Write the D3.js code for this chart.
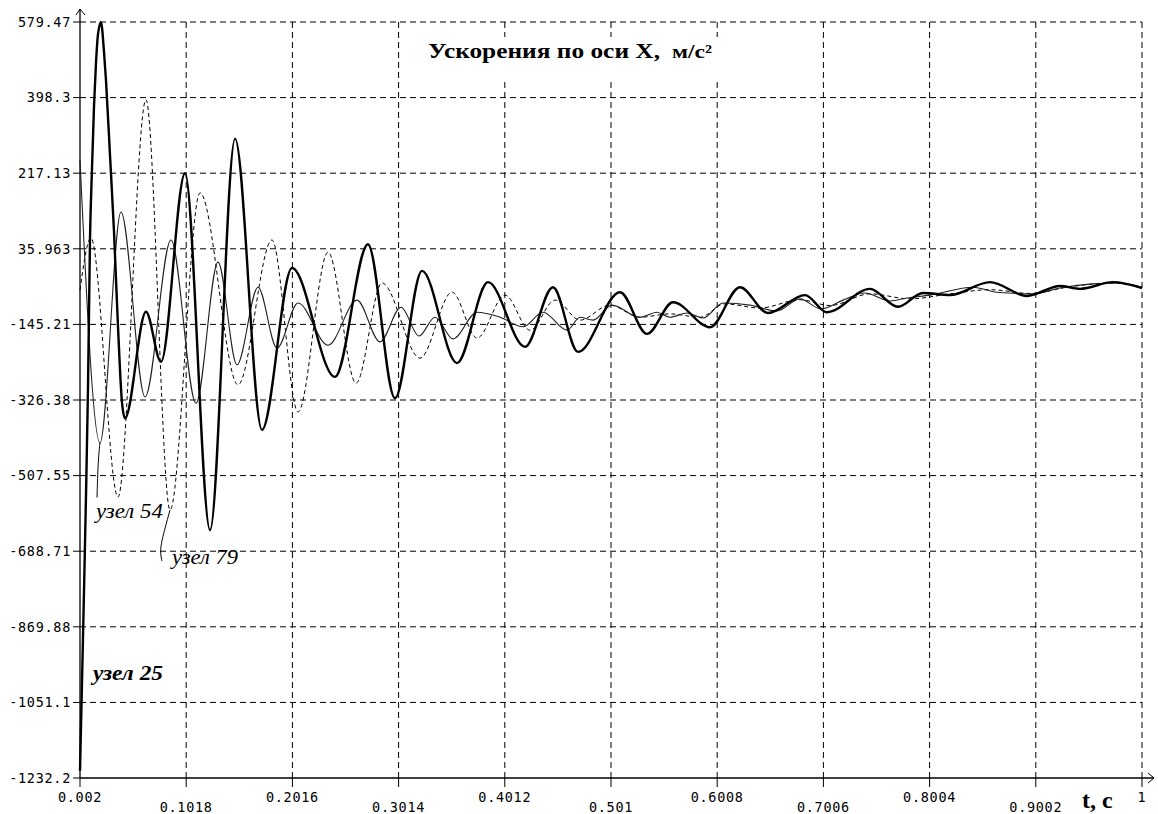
<!DOCTYPE html>
<html lang="ru">
<head>
    <meta charset="UTF-8">
    <title>Ускорения по оси X</title>
    <script src="https://d3js.org/d3.v7.min.js"></script>
    <style>
        body { margin: 0; background: #fff; }
        svg { display: block; }
        .tick-label {
            font-family: "DejaVu Sans Mono", monospace;
            font-size: 13.5px;
            letter-spacing: 0.7px;
            fill: #000;
        }
        .grid { stroke: #000; stroke-width: 1; stroke-dasharray: 6,4; fill: none; }
        .node-label { font-family: "Liberation Serif", "DejaVu Serif", serif; font-style: italic; font-size: 20px; fill: #000; }
    </style>
</head>
<body>
<svg id="chart" width="1158" height="814"></svg>
<script>
    // tick values and their printed labels
    const xTicks = [0.002, 0.1018, 0.2016, 0.3014, 0.4012, 0.501, 0.6008, 0.7006, 0.8004, 0.9002, 1];
    const xLabels = ["0.002", "0.1018", "0.2016", "0.3014", "0.4012", "0.501", "0.6008", "0.7006", "0.8004", "0.9002", "1"];
    const yTicks = [579.47, 398.3, 217.13, 35.963, -145.21, -326.38, -507.55, -688.71, -869.88, -1051.1, -1232.2];
    const yLabels = ["579.47", "398.3", "217.13", "35.963", "-145.21", "-326.38", "-507.55", "-688.71", "-869.88", "-1051.1", "-1232.2"];

    // узел 25 (thick line): [t, a]
    const node25 = [
        [0.002, -1215], [0.0039, -1000], [0.0058, -780], [0.0076, -560], [0.0095, -300],
        [0.0114, 60], [0.0133, 230], [0.0152, 380], [0.017, 480], [0.0189, 550],
        [0.0217, 579], [0.0245, 510], [0.0264, 440], [0.0302, 260], [0.0339, 80],
        [0.0377, -150], [0.0414, -330], [0.0443, -370], [0.064, -115], [0.0781, -235],
        [0.1007, 217], [0.1242, -638], [0.1477, 300], [0.173, -398], [0.2012, -10],
        [0.2416, -271], [0.2726, 47], [0.298, -322], [0.3234, -17], [0.3563, -238],
        [0.3854, -44], [0.4202, -199], [0.4465, -56], [0.47, -211], [0.5095, -68],
        [0.5348, -168], [0.5593, -92], [0.594, -152], [0.6222, -56], [0.6485, -118],
        [0.6833, -75], [0.704, -116], [0.7444, -60], [0.7707, -103], [0.7942, -70],
        [0.8196, -75], [0.8572, -44], [0.8919, -77], [0.9229, -53], [0.9417, -60],
        [0.9727, -44], [1.0, -58]
    ];

    // узел 54 (thin line)
    const node54 = [
        [0.002, 249], [0.0208, -429], [0.0405, 124], [0.0631, -319], [0.0875, 57],
        [0.111, -334], [0.1317, 4], [0.1495, -242], [0.1693, -56], [0.1871, -202],
        [0.2069, -94], [0.2351, -195], [0.2623, -87], [0.2839, -187], [0.3037, -104],
        [0.3206, -173], [0.3356, -128], [0.3525, -180], [0.3751, -116], [0.3967, -128],
        [0.4183, -151], [0.4371, -116], [0.4597, -159], [0.4719, -128], [0.4841, -135],
        [0.5019, -99], [0.5282, -128], [0.5442, -116], [0.5564, -128], [0.5724, -118],
        [0.5875, -130], [0.6063, -94], [0.6316, -99], [0.657, -113], [0.6786, -84],
        [0.6982, -108], [0.719, -87], [0.7397, -70], [0.7632, -89], [0.7792, -82],
        [0.8008, -75], [0.8412, -56], [0.8637, -68], [0.8976, -72], [0.9229, -58],
        [0.954, -48], [0.9765, -46], [1.0, -56]
    ];

    // узел 79 (dashed line)
    const node79 = [
        [0.002, -63], [0.0123, 62], [0.0377, -559], [0.064, 393], [0.0866, -590],
        [0.1148, 170], [0.1505, -290], [0.1824, 57], [0.2069, -355], [0.2351, 28],
        [0.2614, -286], [0.2858, -46], [0.3215, -226], [0.3516, -68], [0.3751, -178],
        [0.4014, -75], [0.4249, -159], [0.4484, -87], [0.4719, -135], [0.4998, -99],
        [0.5282, -128], [0.5564, -120], [0.5846, -128], [0.6081, -96], [0.641, -106],
        [0.6786, -86], [0.7068, -100], [0.7444, -72], [0.782, -84], [0.8196, -72],
        [0.8572, -62], [0.8948, -71], [0.9324, -55], [0.97, -46], [1.0, -56]
    ];

    // label leaders and label anchors (data units)
    const leader54 = [[0.0208, -429], [0.019, -470], [0.018, -560]];
    const leader79 = [[0.0866, -590], [0.079, -660], [0.0772, -690], [0.079, -712]];
    const nodeLabels = [
        { text: "узел 54", t: 0.017, a: -609, bold: false, len: 67 },
        { text: "узел 79", t: 0.0885, a: -719, bold: false, len: 66 },
        { text: "узел 25", t: 0.0142, a: -997, bold: true, len: 70 }
    ];

    const width = 1158, height = 814;
    const margin = { top: 22, right: 16, bottom: 36, left: 80 };

    const svg = d3.select("#chart");

    const x = d3.scaleLinear()
        .domain([0.002, 1])
        .range([margin.left, width - margin.right]);

    const y = d3.scaleLinear()
        .domain([-1232.2, 579.47])
        .range([height - margin.bottom, margin.top]);

    const x0 = x.range()[0], x1 = x.range()[1];
    const yTop = y.range()[1], yBot = y.range()[0];

    // horizontal grid
    svg.append("g").selectAll("line")
        .data(yTicks.slice(0, -1))
        .enter().append("line")
        .attr("class", "grid")
        .attr("x1", x0).attr("x2", x1)
        .attr("y1", d => y(d)).attr("y2", d => y(d));

    // vertical grid
    svg.append("g").selectAll("line")
        .data(xTicks.slice(1))
        .enter().append("line")
        .attr("class", "grid")
        .attr("x1", d => x(d)).attr("x2", d => x(d))
        .attr("y1", yTop).attr("y2", yBot);

    // title background hides the grid behind it
    svg.append("rect")
        .attr("x", 415).attr("y", 37)
        .attr("width", 330).attr("height", 43)
        .attr("fill", "#fff");

    // y ticks + labels
    const yg = svg.append("g");
    yg.selectAll("line")
        .data(yTicks)
        .enter().append("line")
        .attr("x1", x0 - 7).attr("x2", x0)
        .attr("y1", d => y(d)).attr("y2", d => y(d))
        .attr("stroke", "#000");
    yg.selectAll("text")
        .data(yTicks)
        .enter().append("text")
        .attr("class", "tick-label")
        .attr("x", x0 - 9)
        .attr("y", d => y(d))
        .attr("dy", "0.36em")
        .attr("text-anchor", "end")
        .text((d, i) => yLabels[i]);

    // x ticks + labels (staggered on two rows)
    const xg = svg.append("g");
    xg.selectAll("line")
        .data(xTicks)
        .enter().append("line")
        .attr("x1", d => x(d)).attr("x2", d => x(d))
        .attr("y1", yBot).attr("y2", yBot + 9)
        .attr("stroke", "#000");
    xg.selectAll("text")
        .data(xTicks)
        .enter().append("text")
        .attr("class", "tick-label")
        .attr("x", d => x(d))
        .attr("y", (d, i) => i % 2 === 0 ? yBot + 24 : yBot + 34)
        .attr("text-anchor", "middle")
        .text((d, i) => xLabels[i]);

    // axes with arrows
    svg.append("line")
        .attr("x1", x0).attr("x2", x0)
        .attr("y1", yBot).attr("y2", yTop - 13)
        .attr("stroke", "#000").attr("stroke-width", 1.3);
    svg.append("path")
        .attr("d", `M${x0 - 4},${yTop - 7} L${x0},${yTop - 13} L${x0 + 5},${yTop - 7}`)
        .attr("fill", "none").attr("stroke", "#000");
    svg.append("line")
        .attr("x1", x0).attr("x2", x1 + 12)
        .attr("y1", yBot).attr("y2", yBot)
        .attr("stroke", "#000").attr("stroke-width", 1.3);
    svg.append("path")
        .attr("d", `M${x1 + 6},${yBot - 5} L${x1 + 12},${yBot} L${x1 + 6},${yBot + 5}`)
        .attr("fill", "none").attr("stroke", "#000");

    // series
    const line = d3.line()
        .x(d => x(d[0]))
        .y(d => y(d[1]))
        .curve(d3.curveMonotoneX);

    svg.append("path")
        .datum(node79)
        .attr("d", line)
        .attr("fill", "none")
        .attr("stroke", "#000")
        .attr("stroke-width", 1)
        .attr("stroke-dasharray", "4,3");

    svg.append("path")
        .datum(node54)
        .attr("d", line)
        .attr("fill", "none")
        .attr("stroke", "#222")
        .attr("stroke-width", 1.1);

    svg.append("path")
        .datum(node25)
        .attr("d", line)
        .attr("fill", "none")
        .attr("stroke", "#000")
        .attr("stroke-width", 2.4);

    // leaders
    const leaderLine = d3.line().x(d => x(d[0])).y(d => y(d[1])).curve(d3.curveBasis);
    [leader54, leader79].forEach(l => {
        svg.append("path")
            .datum(l)
            .attr("d", leaderLine)
            .attr("fill", "none")
            .attr("stroke", "#000")
            .attr("stroke-width", 1);
    });

    // node labels
    svg.selectAll(".node-label")
        .data(nodeLabels)
        .enter().append("text")
        .attr("class", "node-label")
        .attr("x", d => x(d.t))
        .attr("y", d => y(d.a))
        .attr("font-weight", d => d.bold ? "bold" : "normal")
        .attr("textLength", d => d.len)
        .attr("lengthAdjust", "spacingAndGlyphs")
        .text(d => d.text);

    // title
    svg.append("text")
        .attr("x", 428).attr("y", 58)
        .attr("font-family", "Liberation Serif, DejaVu Serif, serif")
        .attr("font-weight", "bold")
        .attr("font-size", "20px")
        .attr("textLength", 232)
        .attr("lengthAdjust", "spacingAndGlyphs")
        .text("Ускорения по оси X,");
    svg.append("text")
        .attr("x", 672).attr("y", 58)
        .attr("font-family", "Liberation Serif, DejaVu Serif, serif")
        .attr("font-weight", "bold")
        .attr("font-size", "19px")
        .attr("textLength", 40)
        .attr("lengthAdjust", "spacingAndGlyphs")
        .text("м/с²");

    // x axis name
    svg.append("text")
        .attr("x", 1082).attr("y", 808)
        .attr("font-family", "Liberation Serif, DejaVu Serif, serif")
        .attr("font-weight", "bold")
        .attr("font-size", "24px")
        .text("t, c");
</script>
</body>
</html>
